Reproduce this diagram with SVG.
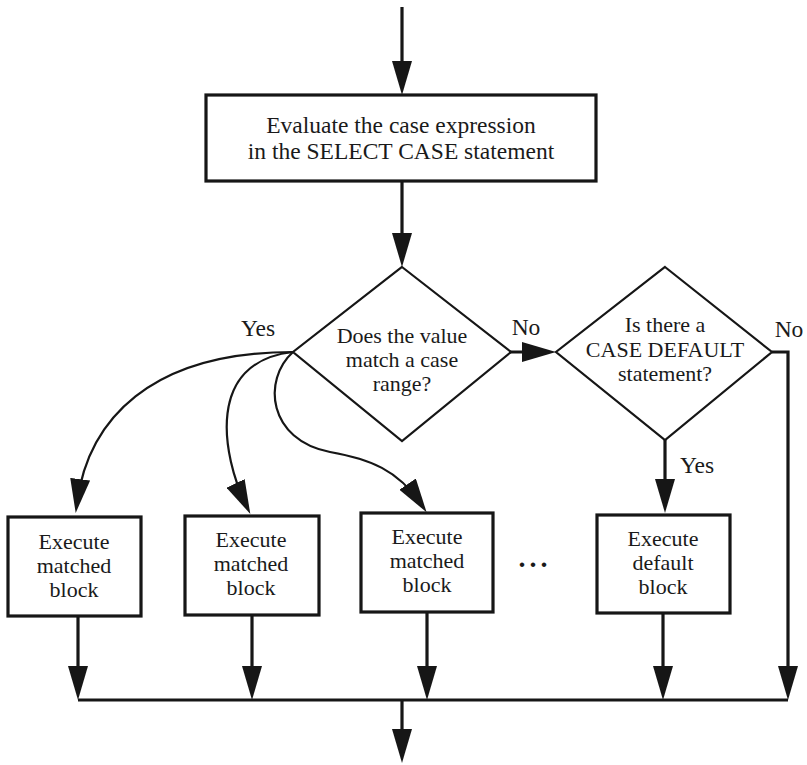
<svg xmlns="http://www.w3.org/2000/svg" width="807" height="765" viewBox="0 0 807 765">
<style>
text{font-family:"Liberation Serif","Times New Roman",serif;font-size:22px;fill:#1a1a1a;text-anchor:middle}
.big{font-size:23.5px}
.box{fill:#fff;stroke:#161616;stroke-width:3.2}
.dia{fill:#fff;stroke:#161616;stroke-width:2.2}
.ln{fill:none;stroke:#161616;stroke-width:3.2}
.cv{fill:none;stroke:#161616;stroke-width:2.2}
</style>
<defs>
<marker id="ah" markerUnits="userSpaceOnUse" markerWidth="34" markerHeight="20" viewBox="0 0 34 20" refX="24" refY="10" orient="auto">
<path d="M0,0 L34,10 L0,20 z" fill="#161616"/>
</marker>
</defs>
<g id="connectors">
<path class="ln" d="M402,7 L402,85" marker-end="url(#ah)"/>
<path class="ln" d="M402,181 L402,257" marker-end="url(#ah)"/>
<path class="ln" d="M509,352 L546,352" marker-end="url(#ah)"/>
<path class="ln" d="M772,352 L788,352 L788,690" marker-end="url(#ah)"/>
<path class="ln" d="M665,440 L665,503" marker-end="url(#ah)"/>
<path class="cv" d="M293,352 C150,352 88,420 77,503" marker-end="url(#ah)"/>
<path class="cv" d="M293,352 C205,362 222,455 246,505" marker-end="url(#ah)"/>
<path class="cv" d="M293,352 C262,380 268,440 330,452 C370,459 398,470 421,504" marker-end="url(#ah)"/>
<path class="ln" d="M78,616 L78,690" marker-end="url(#ah)"/>
<path class="ln" d="M252,615 L252,690" marker-end="url(#ah)"/>
<path class="ln" d="M427,612 L427,690" marker-end="url(#ah)"/>
<path class="ln" d="M663,613 L663,690" marker-end="url(#ah)"/>
<path class="ln" d="M78,700 L788,700"/>
<path class="ln" d="M402,700 L402,753" marker-end="url(#ah)"/>
<text class="big" x="258" y="336">Yes</text>
<text class="big" x="526" y="335">No</text>
<text class="big" x="789" y="337">No</text>
<text class="big" x="680" y="473" style="text-anchor:start">Yes</text>
</g>
<g id="evaluate">
<rect class="box" x="206" y="95" width="390" height="86"/>
<text class="big" x="401" y="133">Evaluate the case expression<tspan x="401" y="159">in the SELECT CASE statement</tspan></text>
</g>
<g id="match">
<polygon class="dia" points="402,267 511,352 402,441 293,352"/>
<text x="402" y="343">Does the value<tspan x="402" y="367">match a case</tspan><tspan x="402" y="391">range?</tspan></text>
</g>
<g id="default-q">
<polygon class="dia" points="665,267 772,352 665,440 556,352"/>
<text x="665" y="332">Is there a<tspan x="665" y="356.5">CASE DEFAULT</tspan><tspan x="665" y="381">statement?</tspan></text>
</g>
<g id="block1">
<rect class="box" x="8" y="517" width="133" height="99"/>
<text x="74" y="549">Execute<tspan x="74" y="573">matched</tspan><tspan x="74" y="597">block</tspan></text>
</g>
<g id="block2">
<rect class="box" x="185" y="516" width="134" height="99"/>
<text x="251" y="547">Execute<tspan x="251" y="571">matched</tspan><tspan x="251" y="595">block</tspan></text>
</g>
<g id="block3">
<rect class="box" x="361" y="513" width="132" height="99"/>
<text x="427" y="544">Execute<tspan x="427" y="568">matched</tspan><tspan x="427" y="592">block</tspan></text>
</g>
<text x="535" y="567" style="font-size:28px;font-weight:bold;letter-spacing:4px">...</text>
<g id="block4">
<rect class="box" x="597" y="515" width="133" height="98"/>
<text x="663" y="546">Execute<tspan x="663" y="570">default</tspan><tspan x="663" y="594">block</tspan></text>
</g>
</svg>
